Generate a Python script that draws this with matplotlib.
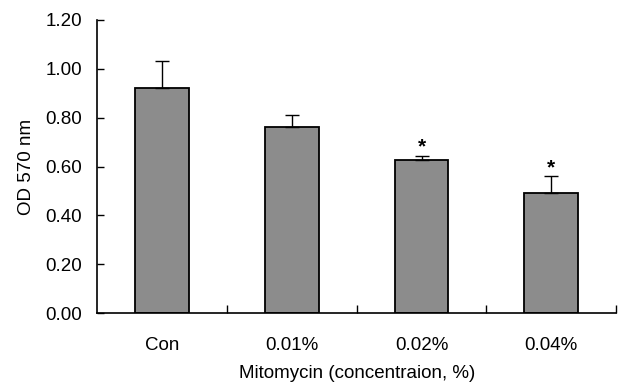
import matplotlib.pyplot as plt
import numpy as np

categories = ["Con", "0.01%", "0.02%", "0.04%"]
values = [0.92, 0.76, 0.625, 0.49]
errors = [0.11, 0.05, 0.02, 0.07]
marks = ["", "", "*", "*"]

plt.rcParams['font.family'] = ['Liberation Sans', 'DejaVu Sans']

fig = plt.figure(figsize=(6.23, 3.9), dpi=100)
ax = fig.add_axes([0.156, 0.197, 0.833, 0.752])

x = np.arange(len(categories))
lower = [0] * len(errors)
ax.bar(x, values, width=0.415, color='#8c8c8c', edgecolor='black', linewidth=1.3, zorder=2)
ax.errorbar(x, values, yerr=[lower, errors], fmt='none', ecolor='black',
            elinewidth=1, capsize=5, capthick=1, zorder=3)

for xi, v, e, m in zip(x, values, errors, marks):
    if m:
        ax.text(xi, v + e + 0.035, m, ha='center', va='center', fontsize=15, fontweight='bold')

ax.set_xlim(-0.5, 3.5)
ax.set_ylim(0, 1.2)
ax.set_yticks(np.arange(0, 1.21, 0.2))
ax.set_yticklabels([f"{t:.2f}" for t in np.arange(0, 1.21, 0.2)])
ax.set_xticks(x)
ax.set_xticklabels(categories)
ax.set_xticks([0.5, 1.5, 2.5, 3.5], minor=True)
ax.tick_params(axis='x', which='major', length=0, pad=17, labelsize=13.5)
ax.tick_params(axis='x', which='minor', direction='in', length=6, width=1)
ax.tick_params(axis='y', direction='in', length=5, width=1, pad=11, labelsize=13.5)

ax.spines['top'].set_visible(False)
ax.spines['right'].set_visible(False)
ax.spines['left'].set_linewidth(1.2)
ax.spines['bottom'].set_linewidth(1.2)

ax.set_ylabel("OD 570 nm", fontsize=13.5, labelpad=7)
ax.set_xlabel("Mitomycin (concentraion, %)", fontsize=13.5, labelpad=8)

fig.savefig("out.png", dpi=100)
